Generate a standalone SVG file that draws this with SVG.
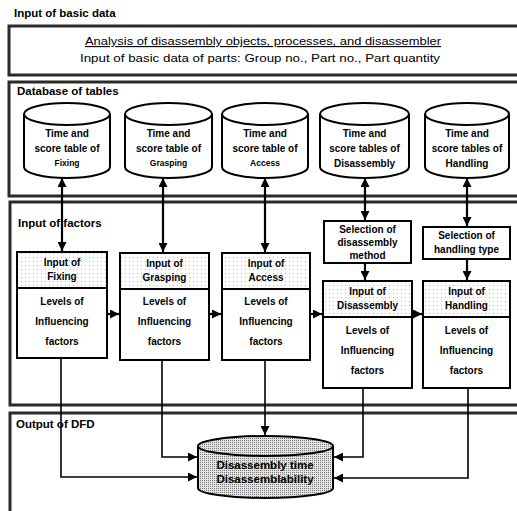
<svg xmlns="http://www.w3.org/2000/svg" width="517" height="511" viewBox="0 0 517 511">
  <defs>
    <marker id="ah" viewBox="0 0 10 10" refX="10" refY="5" markerWidth="9" markerHeight="9" markerUnits="userSpaceOnUse" orient="auto-start-reverse">
      <path d="M0,0 L10,5 L0,10 Z" fill="#000"/>
    </marker>
    <pattern id="stipple" width="4" height="4" patternUnits="userSpaceOnUse">
      <rect width="4" height="4" fill="#fff"/>
      <rect x="1" y="1" width="1" height="1" fill="#bbb"/>
    </pattern>
    <pattern id="shade" width="2" height="2" patternUnits="userSpaceOnUse">
      <rect width="2" height="2" fill="#e4e4e4"/>
      <rect x="0" y="0" width="1" height="1" fill="#777"/>
    </pattern>
  </defs>
  <style>
    .frame { fill: none; stroke: #2a2a2a; stroke-width: 3; }
    .title { font-family: "Liberation Sans", Arial, sans-serif; font-weight: bold; font-size: 11.5px; fill: #000; }
    .basic { font-family: "Liberation Sans", Arial, sans-serif; font-size: 11.5px; fill: #000; text-anchor: middle; }
    .db { fill: #fff; stroke: #000; stroke-width: 2; }
    .dbt { font-family: "Liberation Sans", Arial, sans-serif; font-weight: bold; font-size: 10px; fill: #000; text-anchor: middle; }
    .dbs { font-family: "Liberation Sans", Arial, sans-serif; font-weight: bold; font-size: 8.5px; fill: #000; text-anchor: middle; }
    .box { fill: #fff; stroke: #000; stroke-width: 2; }
    .hdr { fill: url(#stipple); stroke: #000; stroke-width: 2; }
    .bt { font-family: "Liberation Sans", Arial, sans-serif; font-weight: bold; font-size: 10px; fill: #000; text-anchor: middle; }
    .link { fill: none; stroke: #000; stroke-width: 2.2; }
    .out { fill: none; stroke: #000; stroke-width: 1.6; }
    .outdb { fill: url(#shade); stroke: #000; stroke-width: 2; }
    .outt { font-family: "Liberation Sans", Arial, sans-serif; font-weight: bold; font-size: 11.5px; fill: #000; text-anchor: middle; }
  </style>

  <!-- section frames (open to the right) -->
  <g id="frames">
    <text class="title" x="14" y="17">Input of basic data</text>
    <path class="frame" d="M525,26 H9 V75 H525"/>
    <path class="frame" d="M525,82 H9 V196 H525"/>
    <path class="frame" d="M525,202 H10 V405 H525"/>
    <path class="frame" d="M525,413 H10 V515"/>
  </g>

  <g id="basic-data">
    <text class="basic" x="263" y="45" text-decoration="underline" textLength="356" lengthAdjust="spacingAndGlyphs">Analysis of disassembly objects, processes, and disassembler</text>
    <text class="basic" x="260" y="62" textLength="360" lengthAdjust="spacingAndGlyphs">Input of basic data of parts: Group no., Part no., Part quantity</text>
  </g>

  <!-- database of tables -->
  <g id="database">
    <text class="title" x="17" y="95">Database of tables</text>
  </g>
  <g id="db-fixing">
    <path class="db" d="M24,114 A43,11 0 0 1 110,114 V167 A43,11 0 0 1 24,167 Z"/>
    <path class="db" d="M24,114 A43,11 0 0 0 110,114"/>
    <text class="dbt" x="67" y="137">Time and</text>
    <text class="dbt" x="67" y="152">score table of</text>
    <text class="dbs" x="67" y="166">Fixing</text>
  </g>
  <g id="db-grasping">
    <path class="db" d="M125,114 A43.5,11 0 0 1 212,114 V167 A43.5,11 0 0 1 125,167 Z"/>
    <path class="db" d="M125,114 A43.5,11 0 0 0 212,114"/>
    <text class="dbt" x="168.5" y="137">Time and</text>
    <text class="dbt" x="168.5" y="152">score table of</text>
    <text class="dbs" x="168.5" y="166">Grasping</text>
  </g>
  <g id="db-access">
    <path class="db" d="M222,114 A43,11 0 0 1 308,114 V167 A43,11 0 0 1 222,167 Z"/>
    <path class="db" d="M222,114 A43,11 0 0 0 308,114"/>
    <text class="dbt" x="265" y="137">Time and</text>
    <text class="dbt" x="265" y="152">score table of</text>
    <text class="dbs" x="265" y="166">Access</text>
  </g>
  <g id="db-disassembly">
    <path class="db" d="M320,114 A44.5,11 0 0 1 409,114 V167 A44.5,11 0 0 1 320,167 Z"/>
    <path class="db" d="M320,114 A44.5,11 0 0 0 409,114"/>
    <text class="dbt" x="364.5" y="137">Time and</text>
    <text class="dbt" x="364.5" y="152">score tables of</text>
    <text class="dbt" x="364.5" y="167">Disassembly</text>
  </g>
  <g id="db-handling">
    <path class="db" d="M425,114 A42,11 0 0 1 509,114 V167 A42,11 0 0 1 425,167 Z"/>
    <path class="db" d="M425,114 A42,11 0 0 0 509,114"/>
    <text class="dbt" x="467" y="137">Time and</text>
    <text class="dbt" x="467" y="152">score tables of</text>
    <text class="dbt" x="467" y="167">Handling</text>
  </g>

  <!-- input of factors -->
  <g id="factors">
    <text class="title" x="18" y="227">Input of factors</text>
  </g>
  <g id="sel-disassembly">
    <rect class="box" x="324" y="221" width="87" height="42"/>
    <text class="bt" x="367.5" y="233">Selection of</text>
    <text class="bt" x="367.5" y="246">disassembly</text>
    <text class="bt" x="367.5" y="259">method</text>
  </g>
  <g id="sel-handling">
    <rect class="box" x="423" y="227" width="87" height="32"/>
    <text class="bt" x="466.5" y="239">Selection of</text>
    <text class="bt" x="466.5" y="253">handling type</text>
  </g>
  <g id="in-fixing">
    <rect class="box" x="17" y="252" width="90" height="106"/>
    <rect class="hdr" x="17" y="252" width="90" height="36"/>
    <text class="bt" x="62" y="266">Input of</text>
    <text class="bt" x="62" y="280">Fixing</text>
    <text class="bt" x="62" y="305">Levels of</text>
    <text class="bt" x="62" y="325">Influencing</text>
    <text class="bt" x="62" y="345">factors</text>
  </g>
  <g id="in-grasping">
    <rect class="box" x="120" y="253" width="89" height="107"/>
    <rect class="hdr" x="120" y="253" width="89" height="36"/>
    <text class="bt" x="164.5" y="267">Input of</text>
    <text class="bt" x="164.5" y="281">Grasping</text>
    <text class="bt" x="164.5" y="305">Levels of</text>
    <text class="bt" x="164.5" y="325">Influencing</text>
    <text class="bt" x="164.5" y="345">factors</text>
  </g>
  <g id="in-access">
    <rect class="box" x="222" y="253" width="88" height="107"/>
    <rect class="hdr" x="222" y="253" width="88" height="36"/>
    <text class="bt" x="266" y="267">Input of</text>
    <text class="bt" x="266" y="281">Access</text>
    <text class="bt" x="266" y="305">Levels of</text>
    <text class="bt" x="266" y="325">Influencing</text>
    <text class="bt" x="266" y="345">factors</text>
  </g>
  <g id="in-disassembly">
    <rect class="box" x="323" y="281" width="89" height="107"/>
    <rect class="hdr" x="323" y="281" width="89" height="36"/>
    <text class="bt" x="367.5" y="295">Input of</text>
    <text class="bt" x="367.5" y="309">Disassembly</text>
    <text class="bt" x="367.5" y="334">Levels of</text>
    <text class="bt" x="367.5" y="354">Influencing</text>
    <text class="bt" x="367.5" y="374">factors</text>
  </g>
  <g id="in-handling">
    <rect class="box" x="423" y="281" width="87" height="107"/>
    <rect class="hdr" x="423" y="281" width="87" height="36"/>
    <text class="bt" x="466.5" y="295">Input of</text>
    <text class="bt" x="466.5" y="309">Handling</text>
    <text class="bt" x="466.5" y="334">Levels of</text>
    <text class="bt" x="466.5" y="354">Influencing</text>
    <text class="bt" x="466.5" y="374">factors</text>
  </g>

  <!-- output of DFD -->
  <g id="output">
    <text class="title" x="16" y="428">Output of DFD</text>
  </g>
  <g id="db-result">
    <path class="outdb" d="M198,446 A67.5,10 0 0 1 333,446 V488 A67.5,10 0 0 1 198,488 Z"/>
    <path class="outdb" d="M198,446 A67.5,10 0 0 0 333,446" fill="none"/>
    <text class="outt" x="265" y="469">Disassembly time</text>
    <text class="outt" x="265" y="483">Disassemblability</text>
  </g>

  <!-- connectors -->
  <g id="connectors">
    <!-- table lookups -->
    <line class="link" x1="62" y1="178" x2="62" y2="251" marker-start="url(#ah)" marker-end="url(#ah)"/>
    <line class="link" x1="163" y1="178" x2="163" y2="252" marker-start="url(#ah)" marker-end="url(#ah)"/>
    <line class="link" x1="265" y1="178" x2="265" y2="252" marker-start="url(#ah)" marker-end="url(#ah)"/>
    <line class="link" x1="365" y1="178" x2="365" y2="220" marker-start="url(#ah)" marker-end="url(#ah)"/>
    <line class="link" x1="467" y1="178" x2="467" y2="226" marker-start="url(#ah)" marker-end="url(#ah)"/>
    <line class="link" x1="365" y1="264" x2="365" y2="280" marker-end="url(#ah)"/>
    <line class="link" x1="467" y1="260" x2="467" y2="280" marker-end="url(#ah)"/>
    <!-- factor sequence -->
    <line class="link" x1="107" y1="314" x2="119" y2="314" marker-end="url(#ah)"/>
    <line class="link" x1="209" y1="314" x2="221" y2="314" marker-end="url(#ah)"/>
    <line class="link" x1="310" y1="314" x2="322" y2="314" marker-end="url(#ah)"/>
    <line class="link" x1="412" y1="314" x2="422" y2="314" marker-end="url(#ah)"/>
    <!-- results -->
    <path class="out" d="M61,359 V477 H197" marker-end="url(#ah)"/>
    <path class="out" d="M162,361 V457 H197" marker-end="url(#ah)"/>
    <path class="out" d="M265,361 V435" marker-end="url(#ah)"/>
    <path class="out" d="M363,389 V457 H334" marker-end="url(#ah)"/>
    <path class="out" d="M468,389 V478 H334" marker-end="url(#ah)"/>
  </g>
</svg>
